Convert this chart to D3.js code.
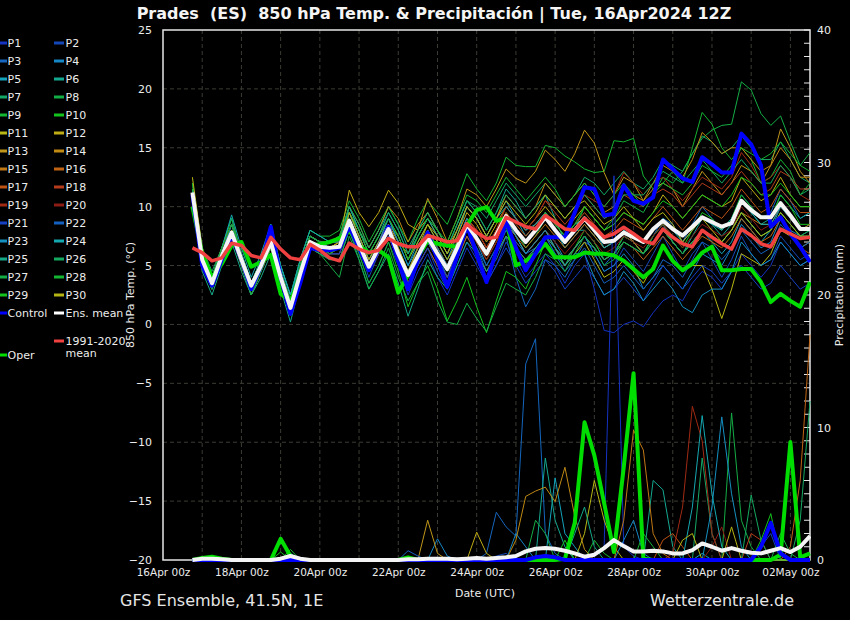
<!DOCTYPE html>
<html><head><meta charset="utf-8">
<script src="https://cdn.jsdelivr.net/npm/d3@7"></script>
<style>body{margin:0;background:#000;}svg{display:block;font-family:"DejaVu Sans",sans-serif;}</style>
</head><body><svg id="c" width="850" height="620"></svg>
<script>
// ---------- time axis ----------
const runStart = Date.UTC(2024,3,16,18);   // first valid time
const stepHours = 6;
const nSteps = 64;
const dateTickLabels = ["2024-04-16","2024-04-18","2024-04-20","2024-04-22","2024-04-24","2024-04-26","2024-04-28","2024-04-30","2024-05-02"];
const tempTicks = [25,20,15,10,5,0,-5,-10,-15,-20];
const precTicks = [0,10,20,30,40];

// ---------- highlighted series ----------
const ensMeanTemp = [11.2,5.5,3.5,5.8,7.8,5.5,3.3,5.0, 7.0,4.0,1.4,4.3,7.0,6.6,6.5,6.6, 8.8,6.8,4.9,6.5,8.1,6.0,4.2,5.8, 7.4,6.0,4.7,6.5,8.5,7.3,6.0,7.6, 9.2,8.0,7.0,8.0,9.1,8.0,7.0,8.0, 9.0,8.0,7.0,7.1,7.8,7.4,7.0,8.1, 8.8,8.1,7.55,8.3,9.1,8.7,8.3,8.6, 10.5,9.7,9.1,9.1,10.3,9.25,8.1,8.1];
const operTemp = [10.0,6.0,4.0,5.15,6.7,7.0,4.9,5.3, 5.9,2.6,2.0,4.0,6.7,6.8,7.0,7.3, 8.0,6.7,6.1,6.3,5.7,2.7,4.2,5.7, 7.1,6.85,6.7,6.6,8.4,9.7,9.96,8.8, 9.0,5.0,5.4,6.0,6.85,5.7,5.7,5.7, 6.1,6.0,6.0,5.85,5.4,4.7,4.0,4.7, 6.7,5.4,4.6,5.15,6.1,6.6,4.6,4.6, 4.7,4.7,3.6,1.9,2.6,2.0,1.5,3.6];
const controlTemp = [11.0,5.0,3.3,5.5,7.6,5.5,3.0,5.0, 8.3,4.0,0.9,3.5,6.5,6.3,6.3,6.5, 8.3,6.5,4.6,6.5,8.3,5.4,3.0,5.5, 7.8,5.5,3.2,5.8,8.4,6.0,3.6,6.2, 8.7,6.5,4.6,6.0,7.4,7.4,7.4,9.5, 11.65,11.5,9.25,9.4,11.8,10.5,10.25,10.8, 14.0,13.2,12.4,12.1,14.2,13.6,12.9,12.9, 16.2,15.3,13.5,8.3,9.1,7.7,6.6,5.3];
const climTemp = [6.5,6.1,5.4,5.65,6.9,6.7,5.85,5.65, 7.4,6.4,5.65,5.5,6.8,6.3,5.65,5.4, 6.9,6.4,6.1,6.3,7.3,6.85,6.6,6.6, 7.55,7.3,7.0,7.1,8.55,7.8,7.3,7.4, 9.1,8.7,8.3,8.1,9.25,8.7,8.1,8.0, 9.0,8.3,7.4,7.7,8.25,7.7,7.1,6.85, 8.1,7.4,6.85,6.6,8.0,7.4,6.85,6.4, 8.1,7.55,6.85,6.6,8.1,7.7,7.3,7.4];
const ensMeanPrec = [0,0.1,0.1,0.05,0,0,0,0, 0,0.1,0.3,0.1,0,0,0,0, 0,0,0,0,0,0,0.05,0.05, 0.1,0.1,0.1,0.05,0.1,0.15,0.1,0.15, 0.2,0.3,0.65,0.85,0.9,0.85,0.7,0.5, 0.25,0.4,0.9,1.5,1.05,0.65,0.65,0.7, 0.65,0.5,0.5,0.75,1.25,1.0,0.7,0.9, 0.7,0.55,0.5,0.7,0.9,0.6,1.0,1.8];
const operPrec = [0,0.15,0.25,0.1,0,0,0,0, 0,1.6,0.3,0,0,0,0,0, 0,0,0,0,0,0,0.2,0, 0,0,0,0,0,0,0,0, 0,0,0,0,0,0,0.1,2.8, 10.4,7.9,4.3,0.6,7,14.1,0.1,0, 0,0,0,0,0,0,0,0, 0,0,0,0,0.4,8.9,0.2,0.5];
const controlPrec = [0,0,0,0,0,0,0,0, 0,0,0,0,0,0,0,0, 0,0,0,0,0,0,0,0, 0,0,0,0,0,0,0,0, 0,0,0,0.2,0.3,0.2,0,0, 0,0,0,0,0,0,0,0, 0,0,0,0,0,0,0,0, 0,0,1,2.8,0.5,0,0,0];

// ---------- members: 850 hPa temperature ----------
const t01=[11,5,3,5.5,7.5,5,3,4.5, 7,3.5,1,4,6.5,6,6,6, 8,6,3.5,5,7,5,2.5,4.5, 6,4,2.5,4.5,6.5,5,3.5,5, 7,5.5,4,5,6,5,3.5,5, 6,3,-0.5,-0.7,0,0.3,-0.2,1, 2,2.5,2,3.5,4.5,4,3,4.5, 6,5,4,5,7,6,5,5.5];
const t02=[11.5,6,4,6.5,8.5,6,3.5,5.5, 7.5,4.5,2,5,7,6.5,6,6, 8.5,6.5,4,6,7.5,5.5,3,5, 6.5,5,3,5.5,7.5,6,4,6, 8,6.5,5,6.5,7.5,6,5,6.5, 7.5,6,4.5,5,6.5,5.5,4.5,6, 7.5,6,4.5,6,7,5.5,4,5.5, 7.5,6,5,5.5,7.5,6.5,5.5,6];
const t03=[11,5.5,3.5,6,8.5,6,3.5,5, 7.5,4.5,2,5,7.5,7,6.5,6.5, 9.5,7.5,5.5,7,8.5,6.5,4.5,6.5, 8,6,4,6,8,6.5,4.5,5.5, 7.5,4,1.5,3,5.5,5,4,5.5, 7,6.5,5,6,7.5,7,6,7.5, 9,8.5,7,8.5,10,9,8,9, 11,10,9,9.5,11.5,10.5,9,9.5];
const t04=[11.5,5.5,3,5.5,8,5.5,3,5, 7,4,1.5,4.5,7.5,7,6.5,6.5, 9,6.5,4.5,6,8,6,3.5,5.5, 7,5.5,4,6,8,7,5,6.5, 8.5,7.5,6,7,8,7,5.5,6.5, 7.5,6,4.5,5,6,5,3,4, 5,4,3,4.5,6,5.5,5,6.5, 8.5,7.5,6.5,7,9,8,7.5,8];
const t05=[11,6,4,6.5,9,6,3.5,5.5, 8,4.5,2,5,7.5,7,7,7, 9.5,7.5,5.5,7,9,7,5,7, 8.5,7,5.5,7.5,10,9,7.5,9, 10.5,9,7.5,8.5,9.5,8,6.5,7.5, 8.5,7.5,6.5,7,8,7,6,7.5, 8.5,7,6,7,8,7,6,7, 9,8,7,8,10,9,8,8.5];
const t06=[10.5,5,3,5.5,7.5,5,2.5,4.5, 6.5,3.5,1,4,7,6.5,6.5,7, 10,8,6.5,8,10,8.5,6.5,8, 9.5,8,6.5,8.5,10.5,9.5,8,9.5, 11.5,10.5,9,10,11,9,7,8, 8,7,5.5,6,7.5,7,6,7, 8,7,6,7.5,9,8.5,7.5,8.5, 10.5,9.5,8.5,9,11,10,9,9.5];
const t07=[12,6.5,4.5,6.5,8.5,6,3.5,5.5, 8,5,2.5,5.5,8,7.5,7,7, 9.5,7.5,5.5,7,8.5,7.5,5.5,7.5, 9,8,6.5,8.5,10.5,10,9,10.5, 12,11,10,11,12,11,10,11, 12.5,12,11,12,13,12,11.5,12.5, 14,13.5,13,14.5,16,15.5,14.5,15, 16,15,14,14,15.5,14,12.5,12];
const t08=[11.5,6,4,6,8,5.5,3,5, 7,4,1.5,4.5,7,6.5,6,6, 9,7,5,6.5,8.5,6.5,4.5,6.5, 8,6.5,5,7,9,8,6.5,8, 9.5,8,6.5,7.5,9,8,7,8, 10,9,8,9,10.5,10,9.5,11, 12.5,12,13,14.5,15.8,16.5,16.9,17, 20.6,19.9,17.9,16.9,17.7,15.5,13.5,14.6];
const t09=[12,6,4,6.5,9,6,3.5,5.5, 8.5,5,2.5,5.5,8,7.5,7.5,8, 10.5,9,7,8.5,10,8.5,7,9, 10.5,9.5,8.5,10.5,12.8,11.5,10.5,12, 14.2,13.5,13.4,13.4,15.2,15,14.3,13.8, 13.2,12.9,13,15.6,15.5,15.8,12.6,11.5, 12,13,12,15,18,17,15,14, 15,14,12,12.5,14,13,11,12];
const t10=[10.5,5,3,5.5,7.5,5,2.5,4.5, 6.5,3.5,1,4,6.5,6,5.5,5.5, 8,6,3.5,5,7,4.5,1.5,3.5, 5,3,0.3,2,4,1.5,-0.7,2, 4.5,4,3,5,7,6,5,6.5, 8,7,5.5,6,7.5,7,6,7.5, 8.5,7.5,6.5,8,9.5,9,8,9, 11,10,9,9,11,10,8.5,8.5];
const t11=[12.5,6.5,4,6,8,5.5,3,5, 7,4.5,2,5,7.5,7,6.5,7, 9.5,8,6,7.5,9,7.5,5.5,7, 8.5,7,5.5,7,9,8,6.5,8, 9,7.5,6,7,8,6.5,5,6, 7,5.5,4,4.5,5.5,4.5,3.5,5, 6.5,5.5,4.5,5,5,3,0.5,3, 6,5.5,5,6,8,7.5,6.5,7];
const t12=[11,5.5,3.5,6,8,5.5,3,5, 7,4,1.5,4.5,7,6.5,6.5,7, 11.4,9.5,8.3,9.5,11.4,10.3,8.5,8, 9,7.5,6,7.5,9.5,8.5,7,8.5, 10,9,8,9,10,9,8,9, 10,9,8,8.5,9.5,9,8.5,9.5, 11,10,9,10,11,10.5,10,10.5, 12.5,11.5,10.5,11,12.5,11,10,10];
const t13=[11,5,3,5.5,7.5,5,2.5,4.5, 6.5,3.5,1,4,7,6.5,6.5,7, 9,7,5,6.5,8.5,7,6,8, 10.7,9,7,9,11.5,11,10,11.5, 13.2,12.4,12,13,14.8,14,13,14.5, 16.5,15.4,12.9,11,12.5,12,10.5,11.5, 12,11.5,10,11.5,13,12,11,12, 13.5,13,12,13.5,16.6,15,13,12];
const t14=[11.5,6,4,6.5,8.5,6,3.5,5, 7.5,4.5,2,5,7.5,7,7,7.5, 10,8.5,6.5,8,10,9,7,8.5, 9.5,8,6.5,8,10,9,7.5,9, 11,10,9,10,12,11,10,11, 12,11,9.5,10,11.5,11,10.5,12, 13.5,13,12.5,14,16.3,15.5,14.5,15, 15,14,13,13.5,15,14,12.5,12.5];
const t15=[10.5,5,3,5.5,7.5,5.5,3,5, 7,4,1.5,4.5,7,6.5,6,6.5, 8.5,6.5,4.5,6,7.5,5.5,3.5,5.5, 7,5.5,4,6,8,7,5.5,7, 8.5,7.5,6.5,7.5,8.5,7.5,6.5,7.5, 8.5,7.5,6.5,7,8,7,6,7, 8,7,6,7,8,7.5,7,8, 9.5,9,8.5,8.5,10,9,8,8.5];
const t16=[11,5.5,3.5,6,8,5.5,3,5, 7,4,1.5,4.5,7,6.5,6.5,6.5, 9,7,4.5,6,7.5,5.5,3.5,5, 6.5,5,3.5,5.5,7.5,6,4.5,6, 7.5,6.5,5.5,6.5,7.5,6.5,5.5,6.5, 7.5,6.5,5.5,6,7,6.5,5.5,6.5, 7.5,6.5,5.5,6.5,7.5,7,6.5,7.5, 9,8,7,7.5,9,8,6.5,6];
const t17=[11,5.5,3,5.5,8,5.5,3,5, 7,4,1.5,4.5,7,6.5,6.5,6.5, 9,7,5,6.5,8,6,4,6, 8,6.5,5,7,9,8,6.5,8, 9.5,8.5,7.5,8.5,9.5,8.5,7.5,8.5, 9.5,8.5,7.5,8,9,8.5,8,9, 10,9,8,9,10,9.5,9,10, 11.5,10.5,9.5,10,11.5,10.5,9.5,9.5];
const t18=[11.5,6,4,6.5,8.5,6,3.5,5.5, 7.5,4.5,2,5,7.5,7,7,7, 9.5,7.5,5.5,7,8.5,6.5,4.5,6.5, 8,6.5,5,7,9,8,6.5,8, 10,9,8,9,10.5,9.5,8.5,9.5, 11,10,9,9.5,11,10.5,10,11, 11.5,11,10,11,12,11.5,11,12, 13,12,11,11.5,13,12.5,11.5,11.5];
const t19=[11,5.5,3.5,6,8,5.5,3,5, 7,4,1.5,4.5,7,6.5,6.5,6.5, 9,7,5,6.5,8,6,4,6, 7.5,6.5,5,7,9,8,6.5,8, 10,9,8,9,10.5,10,9,10, 11,10.5,10,11,12.9,12,11,12, 12.5,11.5,10.5,11.5,12.5,12,11.5,12.5, 14.6,13.5,12,12.5,13.5,12.5,11,10.5];
const t20=[11,5.5,3.5,5.5,7.5,5,3,4.5, 6.5,3.5,1,4,6.5,6,6,6, 8.5,6.5,4.5,6,7.5,5.5,3.5,5.5, 7,5.5,4,6,8,7,5.5,7, 8.5,7,6,7,8,7,6,7, 8,7,6,6.5,7.5,7,6.5,7.5, 8.5,7.5,6.5,7.5,8.5,8,7.5,8, 10,9,8,8.5,10,9,8,8];
const t21=[11,5,3,5.5,8,5.5,3,4.5, 7,4,1.5,4.5,7,6.5,6,6, 8.5,6.5,4.5,6,7.5,5.5,3.5,5, 6.5,4.5,3,5,7,5.5,3.5,5, 6.5,5,3.5,4.5,5.5,4.5,3,4, 5,4,2.5,3,4,3,2,3.5, 5,4,3,4,5,4.5,3.5,4.5, 5,4,3,3.5,5,4,3,3.5];
const t22=[11.5,6,4,6,8,5.5,3.5,5.5, 7.5,4.5,2,5,7,6.5,6.5,6.5, 9,7,5,6.5,8,6,4,5.5, 7,5.5,4,6,8,6.5,5,6.5, 8,7,6,6.5,7.5,6,4.5,5.5, 6.5,5,3.5,4,5,4,3,4, 5.5,5,4,5.5,7,6.5,5.5,6.5, 8,7,6,6.5,8.5,7.5,6.5,7];
const t23=[11,5.5,3.5,6,8.5,6,3.5,5.5, 8,5,2.5,5,7.5,7,6.5,6.5, 9.5,7.5,5.5,7,9,7,5,6.5, 8,6.5,5,7,9,7.5,6,7.5, 9,7.5,6,7,8,6.5,5,6, 6,4,2.5,3,4.5,3.5,2,3, 4,3,1.5,1,2.5,3,3,4.5, 7,6,5,5.5,7,6,5,5.5];
const t24=[11.5,6,4,6.5,9.3,6.5,4,6, 8.5,5,2.5,5.5,8,7.5,7,7, 10,8,6,7.5,9.5,8,6,7.5, 9,7.5,6,8,10,9,7.5,9, 10,9,8,8.5,9.5,8.5,7.5,8.5, 9,8,6.5,7,8,7.5,7,8, 9,8,7,8,9,8.5,8,9, 10.5,9.5,8.5,8.5,10,9,8,8];
const t25=[10.5,4.5,2.5,5,7,4.5,2.5,4, 6,3,0.2,3.5,6.5,6,5.5,5.5, 8,5.5,3,4.5,6,3.5,0.7,3, 5.5,4,3,5,7,6,4.5,6, 7.5,6.5,5.5,6.5,7.5,6.5,5.5,6.5, 7.5,6.5,5.5,6,7,6.5,6,7, 8,7,6,7,8,7.5,7,8, 9.5,8.5,7.5,8,9.5,8.5,7.5,7.5];
const t26=[11,5.5,3.5,6,8,5.5,3,5, 7.5,4.5,2,5,7.5,7,7,7.5, 10,8.5,6.5,8,9.5,8,6,8, 9.5,8,6.5,8.5,10.5,9.5,8,9.5, 11,10,9,10,11,10,9,10, 11,10,9,9.5,11,11,11,12, 13,12.5,12,13,14,13,12,13, 14,13,12,12,13.5,12.5,11,11.5];
const t27=[11,5,3,5.5,7.5,5,2.5,4.5, 6.5,3.5,1,4,6.5,6,5,4, 7.5,5.5,3,4.5,6.5,4,2,3.5, 4.5,2,0.2,0,1.8,0.5,-0.6,1.5, 3.5,3,2.5,4,6,5.5,4.5,6, 7.5,6.5,5,5.5,7,6.5,6,7, 8,7,6,7,8,7.5,7,8, 9.5,8.5,7.5,8,9.5,8.5,7.5,8];
const t28=[11.5,6,4,6.5,8.5,6,3.5,5.5, 7.5,4.5,2,5,7.5,7,7,7.5, 9.5,8,6,7.5,9,7.5,5.5,7.5, 9,8,7,9,11,10.5,9.5,11, 12.5,11.5,10.5,11.5,12.5,11.5,10,11, 12,11,10,11,12,11,10,11, 12,11.5,11,12,13.5,13,12.5,13.5, 15,14.5,14,14.5,15.5,14.5,13.5,13];
const t29=[11,5.5,3.5,6,8,5.5,3,5, 7,4,1.5,4.5,7,6.5,6,6.5, 9,7,5,6.5,8,6,4,6, 7.5,6,4.5,6.5,8.5,7.5,6,7.5, 9,8,7,8,9.5,8.5,7.5,8.5, 10,9,8,8.5,9.5,9,8.5,9.5, 10.5,10,9,10,11,10.5,10,11, 12.5,12,11,11,12,11,10,10];
const t30=[11,5.5,3.5,6,8,5.5,3,5, 7,4,1.5,4.5,7,6.5,6.5,6.5, 9.5,7.5,5.5,7,8.5,6.5,4.5,6.5, 8.5,7.5,6,8,10,9,7.5,9, 10.5,9.5,8.5,9.5,11,10,9,10, 10.5,9.5,8.5,9,10,9,8,9, 9.5,8.5,7,8,9,8,7,8, 9.5,8.5,7.5,8,9.5,8.5,7.5,7.5];

// ---------- members: precipitation (mm / 6h) ----------
const Z8=[0,0,0,0,0,0,0,0];
const p01=[...Z8,...Z8,...Z8,...Z8,...Z8, 0,0.5,1,29,1,0.3,0,0, ...Z8,...Z8];
const p02=[...Z8,...Z8,...Z8, 0,0,0,0,0,0,0,0.3, 0.5,0,0,0,0,0,0,0, ...Z8,...Z8,...Z8];
const p03=[...Z8,...Z8,...Z8, 0,0,0,0,0,0,0.5,3.6, 2.5,1.8,14.8,16.7,2,0.5,0,0, ...Z8,...Z8,...Z8];
const p04=[...Z8,...Z8,...Z8, 0,1.6,0.3,0,0,0,0,0, 0,2,1,0,0,0,0,0, 0,0,0,0,1.5,3,0.5,0, ...Z8,...Z8];
const p05=[...Z8,...Z8,...Z8,...Z8, 0,0,0,0,0,6.2,2,1, ...Z8, 0,0,0,0,0.5,0,0,0, ...Z8];
const p06=[...Z8,...Z8,...Z8,...Z8, 0,0,0,0,7.7,3,1,0, 0,0,0,0,0,0,0,6, 5.3,1,0,0,0,0,0,0, ...Z8];
const p07=[...Z8, 0,0,0.5,0,0,0,0,0, ...Z8,...Z8,...Z8,...Z8, 0,0,0,0,7.7,2,0,0, ...Z8];
const p08=[...Z8,...Z8,...Z8,...Z8,...Z8,...Z8, 0,0,0,0,0,0,0,11.1, 3,1,0,0,0,0,0,0];
const p09=[...Z8, 0,0,0.8,0,0,0,0,0, ...Z8,...Z8,...Z8, 0,1.5,0.5,0,0,0,0,0, ...Z8,...Z8];
const p10=[...Z8, 0,0.6,0,0,0,0,0,0, ...Z8,...Z8,...Z8,...Z8,...Z8,...Z8];
const p11=[...Z8,...Z8,...Z8,...Z8,...Z8, 2,6,3,1,0,0,0,0, ...Z8,...Z8];
const p12=[...Z8,...Z8,...Z8, 0,0,0,0,0,2.1,0.5,0, ...Z8,...Z8,...Z8,...Z8];
const p13=[...Z8,...Z8,...Z8, 3,0.5,0,0,0,0,0,0, ...Z8,...Z8,...Z8,...Z8];
const p14=[...Z8,...Z8,...Z8,...Z8, 0,1.5,4.8,5.2,5.5,4.4,7,3.3, 0.8,0,0,0,0,0,0,0, ...Z8,...Z8];
const p15=[...Z8,...Z8,...Z8,...Z8,...Z8, 0,0,0,0,3,9.8,8.3,2, 0.5,0,0,0,0,0,0,0, ...Z8];
const p16=[...Z8,...Z8,...Z8,...Z8,...Z8,...Z8,...Z8, 0,0,0,0,0,1,6,17];
const p17=[...Z8,...Z8,...Z8,...Z8,...Z8,...Z8, 1.5,2,1,0,0,0,0,0, ...Z8];
const p18=[...Z8,...Z8,...Z8,...Z8,...Z8,...Z8,...Z8, 0,2,1.5,0,0,0,0,0];
const p19=[...Z8,...Z8,...Z8,...Z8,...Z8,...Z8, 0,0.5,4,11.6,9,2,0,0, ...Z8];
const p20=[...Z8,...Z8,...Z8,...Z8,...Z8,...Z8, 0,0,0,0,0,1,2.5,0, ...Z8];
const p21=[...Z8,...Z8,...Z8,...Z8,...Z8,...Z8,...Z8, 0,0,1,2,0,0,0,0];
const p22=[...Z8,...Z8, 0,0,0,0,0,0,0.7,0.3, ...Z8,...Z8,...Z8,...Z8,...Z8];
const p23=[...Z8,...Z8,...Z8,...Z8,...Z8,...Z8, 0,0,0,0,0,4,10.8,5, 1,0,0,0,0,0,0,0];
const p24=[...Z8,...Z8,...Z8,...Z8,...Z8,...Z8, 0,0,0,4,10.9,5,1,0, ...Z8];
const p25=[...Z8, 0,0,0.5,0,0,0,0,0, ...Z8,...Z8, 0,0,0,0,0,0,0,2, 4,1,0,0,0,0,0,0, ...Z8,...Z8];
const p26=[...Z8,...Z8,...Z8,...Z8,...Z8,...Z8,...Z8, 0,4.9,1.5,0,0,0,3,12];
const p27=[...Z8,...Z8,...Z8,...Z8, 0,0,0,3,2,0,0,0, ...Z8,...Z8, 0,0,0,0,2,0.5,0,0];
const p28=[...Z8,...Z8,...Z8,...Z8,...Z8, 0,0,0,0,0,0,2,1, ...Z8,...Z8];
const p29=[...Z8,...Z8,...Z8,...Z8, 0,0,0,0,0,0,1.5,0, ...Z8,...Z8, 0,0,1.5,3.5,0,0,0,0];
const p30=[...Z8,...Z8,...Z8,...Z8,...Z8,...Z8, 0,0,1.5,2,0,0,0,2.5, ...Z8];

const memberNames = d3.range(1,31).map(k => "P" + k);
const memberColors = ["#1433c2","#1447b8","#1466be","#1487c4","#14a3bc","#14a890","#14a866","#14ad45","#14b532","#14c21e",
  "#b8b814","#c0ac14","#c0961a","#c08a14","#c07814","#c06414","#bc5214","#b43c1c","#a02a14","#8c1c14",
  "#1440c4","#1460c0","#1490c0","#14a8b0","#14a888","#14a860","#14ad45","#14b532","#14c21e","#b4b414"];
const memberTemps = [t01,t02,t03,t04,t05,t06,t07,t08,t09,t10,t11,t12,t13,t14,t15,t16,t17,t18,t19,t20,t21,t22,t23,t24,t25,t26,t27,t28,t29,t30];
const memberPrecs = [p01,p02,p03,p04,p05,p06,p07,p08,p09,p10,p11,p12,p13,p14,p15,p16,p17,p18,p19,p20,p21,p22,p23,p24,p25,p26,p27,p28,p29,p30];

// ---------- drawing ----------
const times = d3.range(nSteps).map(i => new Date(runStart + i*stepHours*3600e3));
const svg = d3.select("#c");
svg.append("rect").attr("width",850).attr("height",620).attr("fill","#000");

const L=163, R=810, T=30, B=560;
const x = d3.scaleUtc().domain([Date.UTC(2024,3,16,0), Date.UTC(2024,4,2,12)]).range([L,R]);
const yT = d3.scaleLinear().domain([-20,25]).range([B,T]);
const yP = d3.scaleLinear().domain([0,40]).range([B,T]);

// grid
const grid = svg.append("g").attr("stroke","#3c3c34").attr("stroke-width",1).attr("stroke-dasharray","4,3");
d3.utcDay.range(new Date(Date.UTC(2024,3,17)), new Date(Date.UTC(2024,4,2,12))).forEach(d => {
  grid.append("line").attr("x1",x(d)).attr("x2",x(d)).attr("y1",T).attr("y2",B);
});
tempTicks.filter(v => v>-20 && v<25).forEach(v => {
  grid.append("line").attr("x1",L).attr("x2",R).attr("y1",yT(v)).attr("y2",yT(v));
});

// frame
svg.append("rect").attr("x",L).attr("y",T).attr("width",R-L).attr("height",B-T)
  .attr("fill","none").attr("stroke","#e6e6e6").attr("stroke-width",1.5);

// right minor ticks
svg.append("g").selectAll("line").data(d3.range(0,41)).join("line")
  .attr("x1",R-6).attr("x2",R).attr("y1",d=>yP(d)).attr("y2",d=>yP(d))
  .attr("stroke","#e6e6e6").attr("stroke-width",1);

// axes
const axL = svg.append("g").attr("transform",`translate(${L},0)`)
  .call(d3.axisLeft(yT).tickValues(tempTicks).tickSize(0).tickPadding(11));
const axR = svg.append("g").attr("transform",`translate(${R},0)`)
  .call(d3.axisRight(yP).tickValues(precTicks).tickSize(0).tickPadding(7));
const axB = svg.append("g").attr("transform",`translate(0,${B})`)
  .call(d3.axisBottom(x).tickValues(dateTickLabels.map(s => new Date(s+"T00:00:00Z")))
    .tickFormat(d3.utcFormat("%d%b %Hz")).tickSize(0).tickPadding(9));
[axL,axR,axB].forEach(a => {
  a.select(".domain").remove();
  a.selectAll("text").attr("fill","#ececec").attr("font-size",11).attr("font-family","DejaVu Sans");
});
axB.selectAll("text").attr("font-size",10.5);

// clip
svg.append("clipPath").attr("id","plotclip").append("rect").attr("x",L).attr("y",T-2).attr("width",R-L+1).attr("height",B-T+4);
const plot = svg.append("g").attr("clip-path","url(#plotclip)");

const lineT = d3.line().x((d,i)=>x(times[i])).y(d=>yT(d));
const lineP = d3.line().x((d,i)=>x(times[i])).y(d=>yP(d));

memberTemps.forEach((s,k) => {
  plot.append("path").attr("d",lineT(s)).attr("fill","none").attr("stroke",memberColors[k]).attr("stroke-width",1).attr("stroke-linejoin","round");
});
memberPrecs.forEach((s,k) => {
  plot.append("path").attr("d",lineP(s)).attr("fill","none").attr("stroke",memberColors[k]).attr("stroke-width",1).attr("stroke-linejoin","round");
});

const thick = (d, color, w) => plot.append("path").attr("d",d).attr("fill","none").attr("stroke",color)
  .attr("stroke-width",w).attr("stroke-linejoin","round");
thick(lineP(operPrec),"#00dd00",4);
thick(lineP(controlPrec),"#0000ff",4);
thick(lineP(ensMeanPrec),"#f4f4f4",4);
thick(lineT(operTemp),"#00dd00",4);
thick(lineT(controlTemp),"#0000ff",4);
thick(lineT(ensMeanTemp),"#f4f4f4",4);
thick(lineT(climTemp),"#f04040",3.5);

// legend
const lg = svg.append("g").attr("font-size",11).attr("fill","#ececec");
const legendItems = memberNames.map((n,k)=>({name:n,color:memberColors[k]}))
  .concat([{name:"Control",color:"#0000ff"},{name:"Ens. mean",color:"#ffffff"}]);
legendItems.forEach((it,k) => {
  const col = k%2, row = Math.floor(k/2);
  const lx = col===0 ? 0 : 54, ly = 43 + row*18;
  lg.append("line").attr("x1",lx).attr("x2",lx+(col===0?7:10)).attr("y1",ly).attr("y2",ly)
    .attr("stroke",it.color).attr("stroke-width",3);
  lg.append("text").attr("x",lx+(col===0?7.5:11.5)).attr("y",ly+4).text(it.name);
});
lg.append("line").attr("x1",54).attr("x2",64).attr("y1",341).attr("y2",341).attr("stroke","#f04040").attr("stroke-width",3);
lg.append("text").attr("x",65.5).attr("y",345).text("1991-2020");
lg.append("text").attr("x",65.5).attr("y",357).text("mean");
lg.append("line").attr("x1",0).attr("x2",7).attr("y1",355).attr("y2",355).attr("stroke","#00dd00").attr("stroke-width",3);
lg.append("text").attr("x",7.5).attr("y",359).text("Oper");

// titles and labels
svg.append("text").attr("x",434).attr("y",19).attr("text-anchor","middle").attr("fill","#f4f4f4")
  .attr("font-size",16).attr("font-weight","bold")
  .text("Prades  (ES)  850 hPa Temp. & Precipitación | Tue, 16Apr2024 12Z").attr("xml:space","preserve").style("white-space","pre");
svg.append("text").attr("transform","translate(134,295) rotate(-90)").attr("text-anchor","middle")
  .attr("fill","#ececec").attr("font-size",11).text("850 hPa Temp. (°C)");
svg.append("text").attr("transform","translate(843,295) rotate(-90)").attr("text-anchor","middle")
  .attr("fill","#ececec").attr("font-size",11).text("Precipitation (mm)");
svg.append("text").attr("x",485).attr("y",597).attr("text-anchor","middle").attr("fill","#ececec")
  .attr("font-size",11).text("Date (UTC)");
svg.append("text").attr("x",120).attr("y",606).attr("fill","#e6e6e6").attr("font-size",16).text("GFS Ensemble, 41.5N, 1E");
svg.append("text").attr("x",650).attr("y",606).attr("fill","#e6e6e6").attr("font-size",16).text("Wetterzentrale.de");
</script></body></html>
